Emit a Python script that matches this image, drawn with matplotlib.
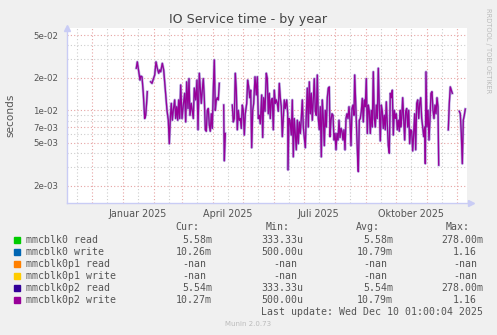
import datetime as dt
import numpy as np
import matplotlib
matplotlib.use("Agg")
import matplotlib.pyplot as plt
import matplotlib.dates as mdates
import matplotlib.patheffects as pe
from matplotlib.patches import Rectangle
from matplotlib.ticker import FixedLocator, FixedFormatter, FuncFormatter, NullFormatter

W, H = 497, 335
BG = "#F0F0F0"
TXT = "#555555"
AXIS_COL = "#C9CCF5"
MGRID = "#E6A3A3"
GRID = "#CDCDCD"

START = dt.datetime(2024, 11, 6)
END = dt.datetime(2025, 12, 11)

# days after START, service time in ms (nan = no data)
day_offset = [
    69.6, 70.6, 72.3, 73.3, 74.0, 75.3, 76.6, 78.0, 79.0, 80.0, 80.6, 82.0,
    84.0, 85.3, 86.3, 88.0, 89.3, 90.6, 92.0, 93.0, 94.0, 95.6, 97.0, 98.6,
    100.3, 101.6, 102.6, 103.6, 104.6, 105.6, 106.6, 108.0, 109.0, 110.0,
    111.0, 112.0, 113.0, 114.0, 115.3, 116.6, 118.0, 119.0, 120.0, 121.3,
    122.3, 123.3, 124.6, 126.6, 127.6, 129.0, 130.3, 131.3, 132.6, 133.3,
    134.6, 135.6, 136.6, 137.6, 138.6, 139.6, 140.6, 141.6, 142.6, 143.6,
    144.6, 145.6, 146.6, 147.6, 148.6, 149.6, 150.6, 151.6, 152.6, 155.0,
    157.0, 157.6, 158.6, 162.0,
    165.6, 166.6, 167.6, 168.6, 169.6, 170.6, 171.6, 172.6, 173.6, 174.6,
    175.6, 176.6, 177.6, 178.6, 180.0, 181.0, 182.0, 183.0, 184.0, 185.0,
    186.0, 187.0, 188.3, 189.6, 190.6, 191.6, 192.6, 193.6, 195.0, 196.0,
    197.0, 198.3, 199.6, 200.6, 201.6, 202.6, 203.6, 204.6, 205.6, 206.6,
    207.6, 208.6, 209.6, 210.6, 211.6, 212.6, 213.6, 214.6, 215.6, 216.6,
    217.6, 218.6, 220.0, 221.0, 221.3, 222.3, 223.3, 224.6, 225.6, 226.6,
    227.6, 228.6, 229.6, 230.6, 231.6, 232.6, 233.6, 234.6, 235.6, 236.6,
    237.6, 238.6, 239.6, 240.6, 241.6, 242.6, 243.6, 244.6, 245.6, 246.6,
    247.6, 248.6, 249.6, 250.6, 251.6, 252.6, 253.6, 254.6, 255.6, 256.6,
    257.6, 258.6, 259.6, 260.6, 261.6, 262.6, 263.3, 264.3, 265.3, 266.3,
    267.3, 268.3, 269.3, 270.3, 271.3, 272.3, 273.3, 274.3, 275.3, 276.3,
    277.3, 278.3, 279.3, 280.3, 281.3, 282.3, 283.3, 284.3, 285.3, 286.3,
    287.3, 288.0, 289.0, 290.0, 291.0, 291.6, 292.6, 293.6, 294.6, 295.6,
    296.6, 297.6, 298.6, 299.6, 300.6, 301.6, 302.6, 303.6, 304.6, 305.6,
    306.6, 307.6, 308.6, 309.6, 310.6, 311.6, 312.6, 313.6, 314.6, 315.6,
    316.6, 317.6, 318.6, 319.6, 320.6, 321.6, 322.6, 323.6, 324.6, 325.6,
    326.6, 327.6, 328.6, 329.6, 330.6, 331.6, 332.6, 333.6, 334.0, 335.0,
    336.0, 337.0, 338.0, 339.0, 340.0, 341.0, 342.0, 343.0, 344.0, 345.0,
    346.0, 347.0, 348.0, 349.0, 350.0, 351.0, 352.0, 353.0, 354.0, 355.0,
    356.0, 357.0, 358.0, 358.6, 359.3, 360.3, 361.3, 362.3, 363.3, 364.3,
    365.3, 366.3, 367.3, 368.3, 369.3, 370.3, 371.3, 372.0, 376.0,
    381.6, 382.6, 383.6, 384.6, 385.6, 389.0,
    392.6, 393.6, 394.6, 395.6, 396.6, 397.6, 398.6,
]
write_ms = [
    24.6, 28.2, 22.1, 19.1, 20.8, 20.5, 14.4, 8.4, 9.0, 12.0, 14.9, np.nan,
    18.4, 17.8, 19.1, 21.3, 28.2, 24.6, 22.1, 23.7, 22.8, 27.3, 23.7, 15.4,
    10.0, 8.1, 4.9, 8.4, 11.6, 8.1, 10.0, 12.5, 8.4, 10.8,
    8.1, 12.5, 8.4, 17.2, 8.4, 11.2, 14.4, 7.8, 18.4, 10.4,
    19.7, 9.0, 11.6, 8.4, 16.1, 12.5, 19.1, 6.6, 22.1, 17.8,
    11.6, 15.4, 19.7, 13.1, 6.6, 6.4, 10.0, 10.4, 7.3, 6.4,
    9.3, 6.8, 15.4, 29.4, 10.0, 12.5, 13.1, 12.5, 17.8, np.nan,
    11.2, 3.4, 6.1, np.nan,
    11.2, 7.8, 8.4, 22.1, 15.4, 6.6, 10.0, 8.1, 8.4, 6.8,
    11.2, 10.0, 5.9, 9.3, 11.6, 19.1, 16.5, 13.1, 15.4, 4.5,
    10.0, 11.6, 20.5, 13.9, 20.5, 8.4, 9.0, 7.5, 13.9, 5.6,
    13.1, 9.8, 22.1, 19.7, 9.3, 14.4, 8.4, 12.5, 12.9, 6.6,
    15.4, 11.6, 12.5, 11.6, 9.8, 17.8, 13.1, 10.8, 5.7, 8.4,
    12.5, 10.4, 12.5, 9.3, 2.8, 8.4, 8.1, 5.9, 12.5, 3.7,
    8.4, 6.1, 4.3, 8.1, 4.9, 7.8, 6.1, 8.4, 12.5, 7.0,
    5.6, 4.5, 9.3, 16.1, 7.0, 18.4, 9.3, 14.4, 8.1, 12.5,
    19.7, 9.8, 9.0, 21.3, 8.4, 6.6, 10.8, 3.7, 12.5, 8.4,
    4.7, 10.0, 7.0, 13.1, 16.1, 16.5, 5.7, 8.1, 9.3, 9.0,
    5.3, 6.1, 4.3, 6.1, 5.3, 8.1, 5.6, 6.8, 6.4, 5.3,
    6.6, 4.3, 8.4, 9.3, 8.4, 10.8, 8.1, 4.7, 10.4, 11.2,
    9.0, 21.3, 11.6, 6.4, 3.5, 2.7, 8.1, 8.4, 9.8, 12.9,
    7.8, 12.5, 10.8, 19.7, 6.1, 11.2, 9.8, 6.1, 10.0, 7.0,
    22.8, 8.4, 7.0, 11.2, 8.4, 24.6, 10.8, 5.2, 11.2, 9.8,
    6.8, 9.0, 6.6, 12.0, 7.5, 4.7, 4.0, 14.4, 13.1, 15.4,
    5.9, 10.0, 8.4, 9.3, 6.6, 8.1, 6.4, 10.0, 7.0, 8.4,
    13.1, 8.4, 5.3, 9.8, 10.4, 7.0, 10.0, 4.9, 6.6, 6.4,
    4.2, 6.1, 9.3, 4.3, 11.6, 12.5, 8.4, 11.6, 13.1, 8.4,
    7.0, 5.7, 7.0, 3.2, 22.8, 7.0, 10.0, 5.3, 8.4, 14.4,
    14.9, 10.0, 8.4, 11.2, 9.3, 13.1, 10.8, 3.1, np.nan,
    6.6, 11.6, 16.5, 15.4, 14.4, np.nan,
    9.8, 9.3, 6.1, 3.2, 8.1, 9.0, 10.27,
]

series_names = ["mmcblk0 read", "mmcblk0 write", "mmcblk0p1 read",
                "mmcblk0p1 write", "mmcblk0p2 read", "mmcblk0p2 write"]
series_colors = ["#00CC00", "#0066B3", "#FF8000", "#FFCC00", "#330099", "#990099"]
cur_vals = ["5.58m", "10.26m", "-nan", "-nan", "5.54m", "10.27m"]
min_vals = ["333.33u", "500.00u", "-nan", "-nan", "333.33u", "500.00u"]
avg_vals = ["5.58m", "10.79m", "-nan", "-nan", "5.54m", "10.79m"]
max_vals = ["278.00m", "1.16", "-nan", "-nan", "278.00m", "1.16"]

y_major = [2e-3, 5e-3, 7e-3, 1e-2, 2e-2, 5e-2]
y_minor = [3e-3, 4e-3, 6e-3, 8e-3, 9e-3, 3e-2, 4e-2]
label_months = [(2025, 1, "Januar 2025"), (2025, 4, "April 2025"),
                (2025, 7, "Juli 2025"), (2025, 10, "Oktober 2025")]

fig = plt.figure(figsize=(W / 100, H / 100), dpi=100, facecolor=BG)


def fx(px):
    return px / W


def fy(py):
    return 1 - py / H


ax = fig.add_axes([fx(66.7), fy(203), fx(400), 175.3 / H])
ax.set_facecolor("white")
ax.set_yscale("log")
ax.set_ylim(1.38e-3, 5.85e-2)
ax.set_xlim(mdates.date2num(START), mdates.date2num(END))

t = mdates.date2num(START) + np.array(day_offset)
v = np.array(write_ms) / 1000.0
# partition write overlays the whole-disk write
ax.plot(t, v, color=series_colors[1], lw=1.0, zorder=3)
ax.plot(t, v, color=series_colors[5], lw=0.9, zorder=4,
        path_effects=[pe.Stroke(linewidth=2.0, foreground="#B39BDD", alpha=0.7),
                      pe.Normal()])

# grid: red at month starts / labelled values, grey in between
month_starts = [mdates.date2num(dt.datetime(2024 + (10 + m) // 12, (10 + m) % 12 + 1, 1))
                for m in range(1, 14)]
mid_months = [mdates.date2num(dt.datetime(2024 + (10 + m) // 12, (10 + m) % 12 + 1, 16))
              for m in range(0, 13)]
for x in month_starts:
    ax.axvline(x, color=MGRID, lw=0.8, ls=(0, (1, 2)), zorder=1)
for x in mid_months:
    ax.axvline(x, color=GRID, lw=0.8, ls=(0, (1, 2)), zorder=1)
for y in y_major:
    ax.axhline(y, color=MGRID, lw=0.8, ls=(0, (1, 2)), zorder=1)
for y in y_minor:
    ax.axhline(y, color=GRID, lw=0.8, ls=(0, (1, 2)), zorder=1)

ax.yaxis.set_major_locator(FixedLocator(y_major))
ax.yaxis.set_minor_locator(FixedLocator([]))
ax.yaxis.set_major_formatter(FuncFormatter(lambda y, _: "%.0e" % y))
ax.yaxis.set_minor_formatter(NullFormatter())
ax.tick_params(axis="y", length=0, pad=6, labelsize=6.2, labelcolor=TXT)

ax.xaxis.set_major_locator(FixedLocator(
    [mdates.date2num(dt.datetime(y, m, 16)) for y, m, _ in label_months]))
ax.xaxis.set_major_formatter(FixedFormatter([lab for _, _, lab in label_months]))
ax.tick_params(axis="x", length=0, pad=4, labelsize=6.9, labelcolor=TXT)

for s in ["top", "right"]:
    ax.spines[s].set_visible(False)
for s in ["left", "bottom"]:
    ax.spines[s].set_color(AXIS_COL)
    ax.spines[s].set_linewidth(1.0)
ax.plot([0], [1.0], marker="^", ms=4, color=AXIS_COL, transform=ax.transAxes,
        clip_on=False, zorder=5)
ax.plot([1.01], [0], marker=">", ms=4, color=AXIS_COL, transform=ax.transAxes,
        clip_on=False, zorder=5)

ax.set_ylabel("seconds", fontsize=7.6, color=TXT, labelpad=13)
fig.text(fx(248.5), fy(20), "IO Service time - by year", ha="center", va="center",
         fontsize=9.1, color="#444444")
fig.text(fx(488), fy(8), "RRDTOOL / TOBI OETIKER", rotation=270, ha="center",
         va="top", fontsize=4.8, color="#BBBBBB")

# legend block
mono = dict(family="DejaVu Sans Mono", fontsize=7.1, color=TXT, va="center")
charw = 5.94
col_right = [212, 303, 393, 483]
for head, right in zip(["Cur:", "Min:", "Avg:", "Max:"], col_right):
    fig.text(fx(right - 13), fy(227), head, ha="right", **mono)
for i, name in enumerate(series_names):
    yy = 239.7 + 12 * i
    fig.patches.append(Rectangle((fx(14), fy(yy + 3)), fx(6), 6 / H,
                                 transform=fig.transFigure, color=series_colors[i]))
    fig.text(fx(26), fy(yy), name, ha="left", **mono)
    for vals, right in zip([cur_vals, min_vals, avg_vals, max_vals], col_right):
        s = vals[i]
        r = right if s[-1] in "mu" else right - charw
        fig.text(fx(r), fy(yy), s, ha="right", **mono)
fig.text(fx(483), fy(311.7), "Last update: Wed Dec 10 01:00:04 2025", ha="right", **mono)
fig.text(fx(248), fy(324), "Munin 2.0.73", ha="center", va="center", fontsize=5,
         color="#BBBBBB")

fig.savefig("out.png", dpi=100, facecolor=BG)
